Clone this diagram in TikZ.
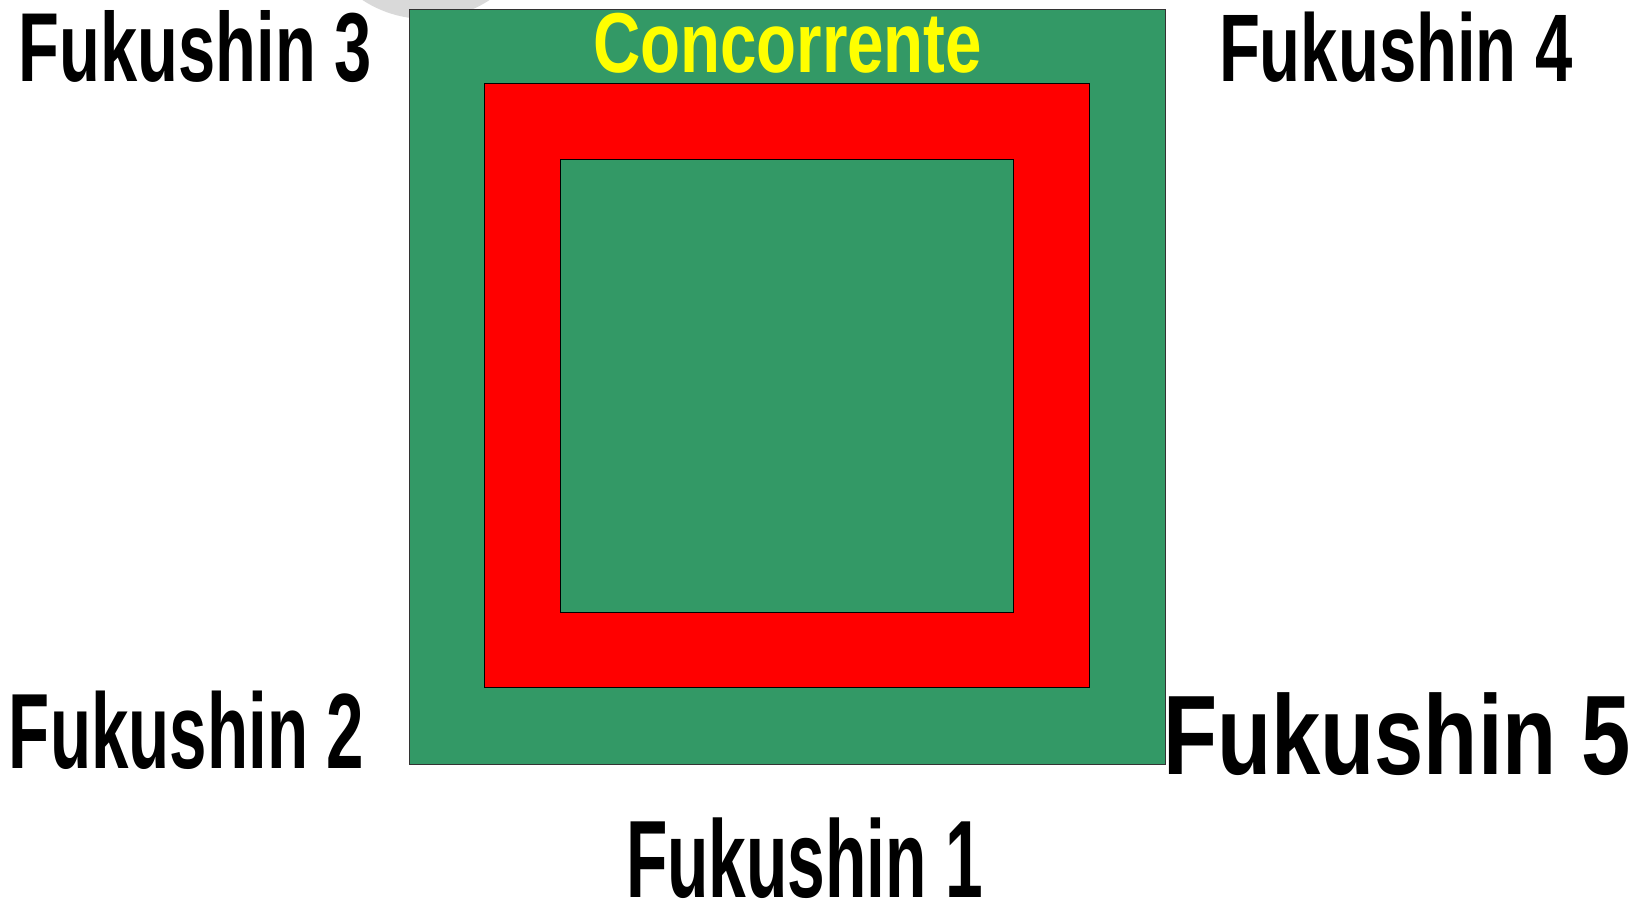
\documentclass[tikz,border=0pt]{standalone}
\usepackage{fontspec}
\setmainfont{Liberation Sans}
\definecolor{fgreen}{RGB}{51,153,102}
\definecolor{fyellow}{RGB}{255,255,0}
\definecolor{fgrey}{RGB}{217,217,217}
\tikzset{
  label/.style={anchor=base west, inner sep=0pt, outer sep=0pt, font=\bfseries},
  greenbox/.style={fill=fgreen, draw=black!80, line width=0.8pt},
  redbox/.style={fill=red, draw=black, line width=0.8pt},
  innerbox/.style={fill=fgreen, draw=black, line width=0.8pt}
}
\newcommand{\lbl}[3]{\scalebox{#2}[1]{\fontsize{#1}{#1}\selectfont\bfseries #3}}
\begin{document}
\begin{tikzpicture}[x=1pt,y=-1pt]
\useasboundingbox (0,0) rectangle (1647,909);
\fill[fgrey] (426,-97) circle[radius=116pt];
\path[greenbox] (409,9) rectangle (1165,764);
\path[redbox] (484,83) rectangle (1089,687);
\path[innerbox] (560,159) rectangle (1013,612);
\node[label, text=fyellow] (conc) at (593,73) {\lbl{85}{0.77}{Concorrente}};
\node[label] (f3) at (19,82) {\lbl{98}{0.682}{Fukushin 3}};
\node[label] (f4) at (1219,82) {\lbl{96}{0.698}{Fukushin 4}};
\node[label] (f2) at (9,768) {\lbl{107}{0.629}{Fukushin 2}};
\node[label] (f5) at (1163,774) {\lbl{113}{0.784}{Fukushin 5}};
\node[label, text depth=0pt] (f1) at (626,897) {\lbl{110}{0.616}{Fukushin 1}};
\end{tikzpicture}
\end{document}
